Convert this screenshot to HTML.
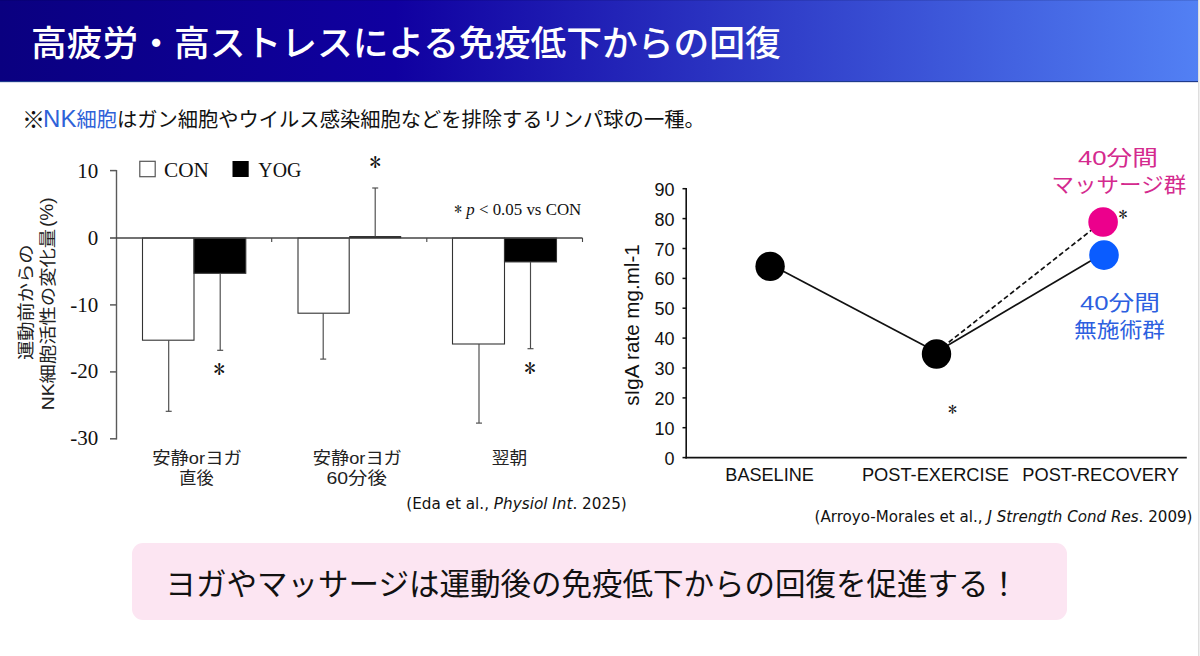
<!DOCTYPE html>
<html lang="ja">
<head>
<meta charset="utf-8">
<title>高疲労・高ストレスによる免疫低下からの回復</title>
<style>
html,body{margin:0;padding:0;}
body{width:1200px;height:656px;overflow:hidden;background:#fff;position:relative;
  font-family:"Liberation Sans","Noto Sans CJK JP",sans-serif;color:#111;}
.hdr{position:absolute;left:0;top:0;width:1198px;height:81px;
  background:linear-gradient(90deg,#0a0080 0%,#1000a0 33%,#5280f4 100%);
  border-bottom:1px solid #1e3a8c;box-shadow:0 1px 0 rgba(60,80,160,0.18);}
.hdr .tl{position:absolute;left:0;top:0;width:1198px;height:1px;background:rgba(0,0,40,0.12);}
.hdr h1{position:absolute;left:31px;top:22px;margin:0;font-weight:500;font-size:35.75px;line-height:44px;
  color:#fff;white-space:nowrap;font-family:"Liberation Sans","Noto Sans CJK JP",sans-serif;}
.rline{position:absolute;left:1198px;top:0;width:2px;height:656px;background:linear-gradient(90deg,#dedede 50%,#efefef 50%);}
.sub{position:absolute;left:22px;top:105px;margin:0;font-size:20.27px;line-height:28px;white-space:nowrap;color:#111;
  font-family:"Liberation Sans","Noto Sans CJK JP",sans-serif;}
.sub .nk{color:#2f62d8;}
.sub .km{font-size:23px;letter-spacing:-1.9px;margin-left:0px;vertical-align:-1px;}
.sub .nk i{font-style:normal;font-size:24px;letter-spacing:0px;}
svg{position:absolute;left:0;top:0;}
.box{position:absolute;left:132px;top:543px;width:935px;height:77px;border-radius:11px;background:#fce5f2;}
.box p{position:absolute;left:33.5px;top:21px;margin:0;font-size:30.5px;font-weight:400;line-height:40px;white-space:nowrap;color:#111;
  font-family:"Liberation Sans","Noto Sans CJK JP",sans-serif;}
</style>
</head>
<body>
<div class="hdr"><div class="tl"></div><h1>高疲労・高ストレスによる免疫低下からの回復</h1></div>
<div class="rline"></div>
<p class="sub"><span class="km">※</span><span class="nk"><i>NK</i>細胞</span>はガン細胞やウイルス感染細胞などを排除するリンパ球の一種。</p>
<svg width="1200" height="656" viewBox="0 0 1200 656">
<g font-family="Liberation Serif, serif" fill="#111">
<line x1="116.5" y1="170" x2="116.5" y2="439.5" stroke="#5a5a5a" stroke-width="1.4"/>
<line x1="110" y1="170.6" x2="116.5" y2="170.6" stroke="#5a5a5a" stroke-width="1.5"/>
<line x1="110" y1="304.9" x2="116.5" y2="304.9" stroke="#5a5a5a" stroke-width="1.5"/>
<line x1="110" y1="371.9" x2="116.5" y2="371.9" stroke="#5a5a5a" stroke-width="1.5"/>
<line x1="110" y1="438.8" x2="116.5" y2="438.8" stroke="#5a5a5a" stroke-width="1.5"/>
<text x="98.3" y="178" font-size="21" text-anchor="end">10</text>
<text x="98.3" y="244.6" font-size="21" text-anchor="end">0</text>
<text x="98.3" y="311.5" font-size="21" text-anchor="end">-10</text>
<text x="98.3" y="378.4" font-size="21" text-anchor="end">-20</text>
<text x="98.3" y="445.3" font-size="21" text-anchor="end">-30</text>
<rect x="142.5" y="238" width="51.5" height="102.2" fill="#fff" stroke="#333" stroke-width="1.1"/>
<rect x="194" y="238" width="51.8" height="35.3" fill="#000" stroke="#333" stroke-width="1.1"/>
<rect x="298" y="238" width="51.2" height="75.2" fill="#fff" stroke="#333" stroke-width="1.1"/>
<rect x="452.5" y="238" width="52.0" height="106.0" fill="#fff" stroke="#333" stroke-width="1.1"/>
<rect x="504.5" y="238" width="52.0" height="23.9" fill="#000" stroke="#333" stroke-width="1.1"/>
<rect x="349.2" y="236.2" width="52" height="2" fill="#000"/>
<line x1="110" y1="238" x2="582.5" y2="238" stroke="#444" stroke-width="1.5"/>
<line x1="271.7" y1="238" x2="271.7" y2="242" stroke="#444" stroke-width="1.1"/>
<line x1="426.8" y1="238" x2="426.8" y2="242" stroke="#444" stroke-width="1.1"/>
<line x1="582.5" y1="238" x2="582.5" y2="242" stroke="#444" stroke-width="1.1"/>
<line x1="168.7" y1="340.2" x2="168.7" y2="411.3" stroke="#4a4a4a" stroke-width="1.15"/>
<line x1="165.7" y1="411.3" x2="171.7" y2="411.3" stroke="#4a4a4a" stroke-width="1.15"/>
<line x1="220.2" y1="273.3" x2="220.2" y2="350.3" stroke="#4a4a4a" stroke-width="1.15"/>
<line x1="217.2" y1="350.3" x2="223.2" y2="350.3" stroke="#4a4a4a" stroke-width="1.15"/>
<line x1="323.2" y1="313.2" x2="323.2" y2="359.1" stroke="#4a4a4a" stroke-width="1.15"/>
<line x1="320.2" y1="359.1" x2="326.2" y2="359.1" stroke="#4a4a4a" stroke-width="1.15"/>
<line x1="375.2" y1="236.5" x2="375.2" y2="188" stroke="#4a4a4a" stroke-width="1.15"/>
<line x1="372.2" y1="188" x2="378.2" y2="188" stroke="#4a4a4a" stroke-width="1.15"/>
<line x1="479" y1="344" x2="479" y2="423.1" stroke="#4a4a4a" stroke-width="1.15"/>
<line x1="476" y1="423.1" x2="482" y2="423.1" stroke="#4a4a4a" stroke-width="1.15"/>
<line x1="530.5" y1="261.9" x2="530.5" y2="348.7" stroke="#4a4a4a" stroke-width="1.15"/>
<line x1="527.5" y1="348.7" x2="533.5" y2="348.7" stroke="#4a4a4a" stroke-width="1.15"/>
<text x="219.2" y="378.4" font-family="IPAGothic, sans-serif" font-size="23" text-anchor="middle">*</text>
<text x="375.2" y="171.4" font-family="IPAGothic, sans-serif" font-size="23" text-anchor="middle">*</text>
<text x="530.1" y="376.8" font-family="IPAGothic, sans-serif" font-size="23" text-anchor="middle">*</text>
<rect x="139.8" y="161.3" width="15.4" height="15.4" fill="#fff" stroke="#555" stroke-width="1.2"/>
<text x="164" y="177.3" font-size="21" textLength="45" lengthAdjust="spacingAndGlyphs">CON</text>
<rect x="232.5" y="161" width="16.2" height="16" fill="#000"/>
<text x="258.3" y="177.3" font-size="21" textLength="43" lengthAdjust="spacingAndGlyphs">YOG</text>
<text x="454.3" y="215.4" font-size="17.5" textLength="127" lengthAdjust="spacingAndGlyphs"><tspan font-family="IPAGothic, sans-serif" font-size="16">*</tspan> <tspan font-style="italic">p</tspan> &lt; 0.05 vs CON</text>
</g>
<g font-family="Liberation Sans, Noto Sans CJK JP, sans-serif" fill="#222" text-anchor="middle">
<text transform="translate(32 302.3) rotate(-90)" font-size="17.5" textLength="115.5" lengthAdjust="spacingAndGlyphs">運動前からの</text>
<g transform="translate(53.5 0) rotate(-90)" text-anchor="start"><text x="-410.3" y="0" font-size="17" textLength="181.5" lengthAdjust="spacingAndGlyphs">NK細胞活性の変化量</text><text x="-227" y="-0.6" font-size="18.5" textLength="29.5" lengthAdjust="spacingAndGlyphs">(%)</text></g>
</g>
<g font-family="Liberation Sans, Noto Sans CJK JP, sans-serif" font-size="16.5" fill="#222" text-anchor="middle">
<text x="197" y="463.6" textLength="89.5" lengthAdjust="spacingAndGlyphs">安静orヨガ</text>
<text x="196.4" y="484.4" textLength="34.3" lengthAdjust="spacingAndGlyphs">直後</text>
<text x="357.3" y="463.6" textLength="89" lengthAdjust="spacingAndGlyphs">安静orヨガ</text>
<text x="356.6" y="484.4" textLength="60.4" lengthAdjust="spacingAndGlyphs">60分後</text>
<text x="509.4" y="463.6" textLength="35.5" lengthAdjust="spacingAndGlyphs">翌朝</text>
</g>
<text x="406.2" y="508.9" font-family="DejaVu Sans, sans-serif" font-size="15.2" fill="#111" textLength="220.6" lengthAdjust="spacingAndGlyphs">(Eda et al., <tspan font-style="italic">Physiol Int</tspan>. 2025)</text>
<g font-family="Liberation Sans, sans-serif" fill="#111">
<line x1="686.2" y1="188" x2="686.2" y2="458.4" stroke="#111" stroke-width="1.6"/>
<line x1="685.4" y1="457.6" x2="1186.8" y2="457.6" stroke="#111" stroke-width="1.7"/>
<line x1="682.5" y1="457.6" x2="686.2" y2="457.6" stroke="#111" stroke-width="1.5"/>
<text x="674.5" y="464.6" font-size="18" text-anchor="end">0</text>
<line x1="682.5" y1="427.7" x2="686.2" y2="427.7" stroke="#111" stroke-width="1.5"/>
<text x="674.5" y="434.7" font-size="18" text-anchor="end">10</text>
<line x1="682.5" y1="397.9" x2="686.2" y2="397.9" stroke="#111" stroke-width="1.5"/>
<text x="674.5" y="404.9" font-size="18" text-anchor="end">20</text>
<line x1="682.5" y1="368.0" x2="686.2" y2="368.0" stroke="#111" stroke-width="1.5"/>
<text x="674.5" y="375.0" font-size="18" text-anchor="end">30</text>
<line x1="682.5" y1="338.1" x2="686.2" y2="338.1" stroke="#111" stroke-width="1.5"/>
<text x="674.5" y="345.1" font-size="18" text-anchor="end">40</text>
<line x1="682.5" y1="308.2" x2="686.2" y2="308.2" stroke="#111" stroke-width="1.5"/>
<text x="674.5" y="315.2" font-size="18" text-anchor="end">50</text>
<line x1="682.5" y1="278.4" x2="686.2" y2="278.4" stroke="#111" stroke-width="1.5"/>
<text x="674.5" y="285.4" font-size="18" text-anchor="end">60</text>
<line x1="682.5" y1="248.5" x2="686.2" y2="248.5" stroke="#111" stroke-width="1.5"/>
<text x="674.5" y="255.5" font-size="18" text-anchor="end">70</text>
<line x1="682.5" y1="218.6" x2="686.2" y2="218.6" stroke="#111" stroke-width="1.5"/>
<text x="674.5" y="225.6" font-size="18" text-anchor="end">80</text>
<line x1="682.5" y1="188.7" x2="686.2" y2="188.7" stroke="#111" stroke-width="1.5"/>
<text x="674.5" y="195.7" font-size="18" text-anchor="end">90</text>
<text transform="translate(638.8 325) rotate(-90)" font-size="21" text-anchor="middle" textLength="161.5" lengthAdjust="spacingAndGlyphs">sIgA rate mg.ml-1</text>
<text x="769.6" y="480.5" font-size="18.5" text-anchor="middle" textLength="88.5" lengthAdjust="spacingAndGlyphs">BASELINE</text>
<text x="935.4" y="480.5" font-size="18.5" text-anchor="middle" textLength="147" lengthAdjust="spacingAndGlyphs">POST-EXERCISE</text>
<text x="1100.6" y="480.5" font-size="18.5" text-anchor="middle" textLength="156.5" lengthAdjust="spacingAndGlyphs">POST-RECOVERY</text>
<line x1="770" y1="264.3" x2="936.5" y2="351.9" stroke="#111" stroke-width="1.7"/>
<line x1="936.5" y1="351.9" x2="1104" y2="253" stroke="#111" stroke-width="1.7"/>
<line x1="936.5" y1="351.9" x2="1103.1" y2="221" stroke="#111" stroke-width="1.7" stroke-dasharray="5 2.8"/>
<circle cx="770.1" cy="266.4" r="14.7" fill="#000"/>
<circle cx="936.5" cy="354" r="14.7" fill="#000"/>
<circle cx="1103.1" cy="222" r="14.8" fill="#ec008c"/>
<circle cx="1104" cy="255.1" r="14.8" fill="#0a5cff"/>
<text x="952.6" y="415.6" font-family="IPAGothic, sans-serif" font-size="18" text-anchor="middle">*</text>
<text x="1123.1" y="220.6" font-family="IPAGothic, sans-serif" font-size="18" text-anchor="middle">*</text>
<text x="814.5" y="521.8" font-family="DejaVu Sans, sans-serif" font-size="15.2" textLength="378" lengthAdjust="spacingAndGlyphs">(Arroyo-Morales et al., <tspan font-style="italic">J Strength Cond Res</tspan>. 2009)</text>
</g>
<g font-family="Liberation Sans, Noto Sans CJK JP, sans-serif" font-size="21" text-anchor="middle">
<text x="1117.9" y="164.8" fill="#d42a8e" textLength="80" lengthAdjust="spacingAndGlyphs">40分間</text>
<text x="1118.9" y="191.5" fill="#d42a8e" textLength="134.7" lengthAdjust="spacingAndGlyphs">マッサージ群</text>
<text x="1120" y="310" fill="#2d5fe0" textLength="80" lengthAdjust="spacingAndGlyphs">40分間</text>
<text x="1119.5" y="336.8" fill="#2d5fe0" textLength="91" lengthAdjust="spacingAndGlyphs">無施術群</text>
</g>
</svg>
<div class="box"><p>ヨガやマッサージは運動後の免疫低下からの回復を促進する！</p></div>
</body>
</html>
